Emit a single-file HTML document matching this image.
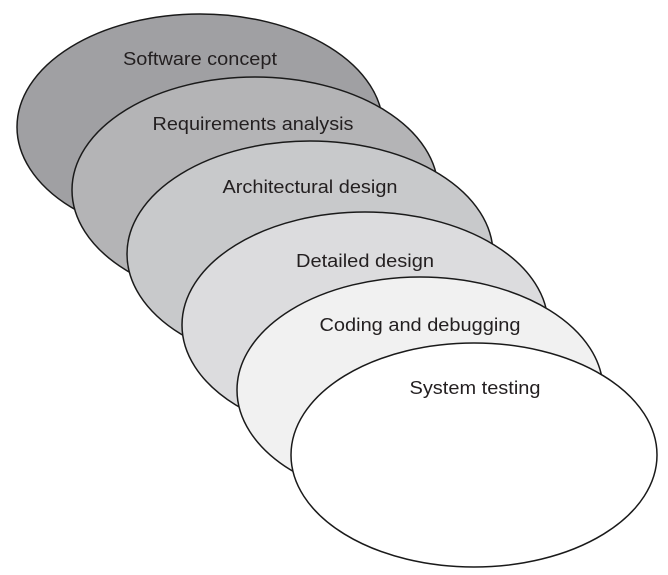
<!DOCTYPE html>
<html><head><meta charset="utf-8"><style>
html,body{margin:0;padding:0;background:#fff;}
svg{display:block;}
text{font-family:"Liberation Sans",Arial,sans-serif;font-size:18.5px;fill:#231f20;text-anchor:middle;}
</style></head><body>
<svg width="668" height="575" viewBox="0 0 668 575">
<g stroke="#1a1a1a" stroke-width="1.5">
<ellipse cx="200" cy="127" rx="183" ry="113" fill="#a0a0a3"/>
<ellipse cx="255" cy="190" rx="183" ry="113" fill="#b4b4b6"/>
<ellipse cx="310" cy="254" rx="183" ry="113" fill="#c8c9cb"/>
<ellipse cx="365" cy="325" rx="183" ry="113" fill="#dcdcde"/>
<ellipse cx="420" cy="390" rx="183" ry="113" fill="#f1f1f1"/>
<ellipse cx="474" cy="455" rx="183" ry="112" fill="#ffffff"/>
</g>
<text x="200" y="65" textLength="154" lengthAdjust="spacingAndGlyphs">Software concept</text>
<text x="253" y="130" textLength="201" lengthAdjust="spacingAndGlyphs">Requirements analysis</text>
<text x="310" y="193" textLength="175" lengthAdjust="spacingAndGlyphs">Architectural design</text>
<text x="365" y="267" textLength="138" lengthAdjust="spacingAndGlyphs">Detailed design</text>
<text x="420" y="331" textLength="201" lengthAdjust="spacingAndGlyphs">Coding and debugging</text>
<text x="475" y="394" textLength="131" lengthAdjust="spacingAndGlyphs">System testing</text>
</svg>
</body></html>
